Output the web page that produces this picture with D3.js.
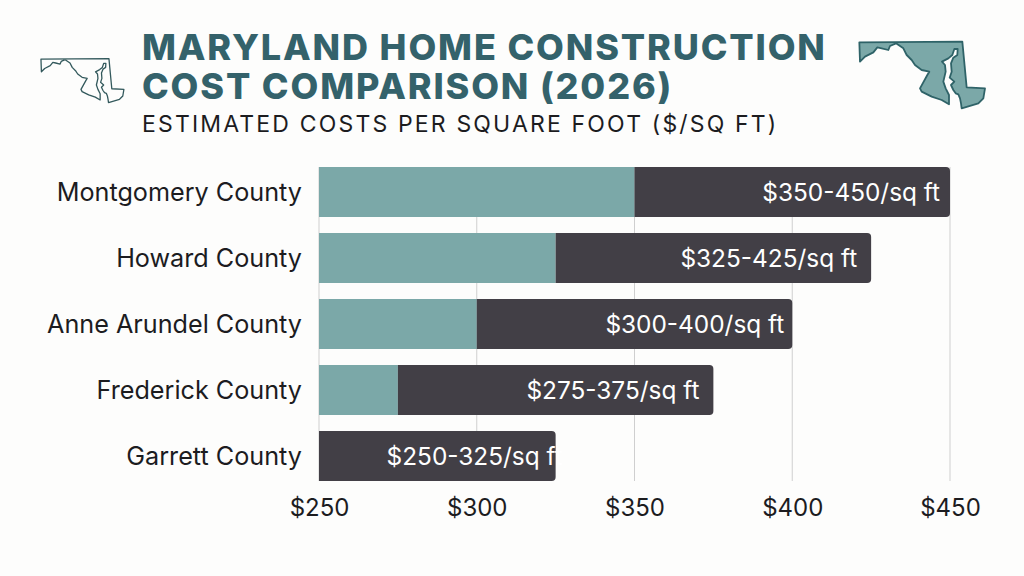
<!DOCTYPE html>
<html>
<head>
<meta charset="utf-8">
<script src="https://cdn.jsdelivr.net/npm/d3@7/dist/d3.min.js"></script>
<style>
  html, body { margin: 0; padding: 0; background: #fdfdfc; }
  svg { display: block; }
  text { font-family: Inter, "Open Sans", sans-serif; }
</style>
</head>
<body>
<svg id="chart" width="1024" height="576"></svg>
<script>
// Construction cost ranges, dollars per square foot
const counties = ["Montgomery County", "Howard County", "Anne Arundel County", "Frederick County", "Garrett County"];
const lowCosts = [350, 325, 300, 275, 250];
const highCosts = [450, 425, 400, 375, 325];
const costLabels = ["$350-450/sq ft", "$325-425/sq ft", "$300-400/sq ft", "$275-375/sq ft", "$250-325/sq ft"];
const axisTicks = [250, 300, 350, 400, 450];
const labelInsets = [10, 14, 8, 14, -7];

const titleLines = ["MARYLAND HOME CONSTRUCTION", "COST COMPARISON (2026)"];
const subtitle = "ESTIMATED COSTS PER SQUARE FOOT ($/SQ FT)";

// State silhouette, in its own drawing units
const marylandOutline = [[58,67],[367,65],[380,202],[435,205],[430,235],[415,250],[365,265],[363,250],[360,235],[355,223],[347,220],[340,210],[333,195],[343,185],[329,173],[335,155],[333,130],[340,113],[352,105],[353,87],[343,87],[337,105],[325,115],[306,125],[315,135],[317,155],[310,185],[317,205],[327,225],[327,253],[305,240],[275,230],[245,215],[240,205],[262,165],[268,155],[245,150],[225,135],[215,120],[200,105],[190,85],[168,70],[150,78],[145,90],[125,85],[112,82],[100,97],[75,110],[60,125]];

const TEAL = "#7ba8a8", DARK = "#423f46", TITLE = "#34626b", INK = "#1c1c1f";

const svg = d3.select("#chart");
const x = d3.scaleLinear().domain([250, 450]).range([319, 950]);
const y = d3.scaleBand().domain(counties).range([167, 481]).paddingInner(16 / 66).paddingOuter(0);
const plotBottom = y.range()[1];

// Vertical gridlines
svg.append("g").selectAll("line").data(axisTicks).join("line")
  .attr("x1", d => x(d)).attr("x2", d => x(d))
  .attr("y1", y.range()[0]).attr("y2", plotBottom)
  .attr("stroke", "#cfcfcf").attr("stroke-width", 1);

// Lower portion of each range
svg.append("g").selectAll("rect").data(counties).join("rect")
  .attr("x", x(250)).attr("y", d => y(d))
  .attr("width", (d, i) => x(lowCosts[i]) - x(250)).attr("height", y.bandwidth())
  .attr("fill", TEAL);

// Cost range bars, rounded at the right end only
svg.append("g").selectAll("path").data(counties).join("path")
  .attr("d", (d, i) => {
    const x0 = x(lowCosts[i]), x1 = x(highCosts[i]), t = y(d), b = t + y.bandwidth(), r = 4;
    return `M${x0},${t}H${x1 - r}Q${x1},${t} ${x1},${t + r}V${b - r}Q${x1},${b} ${x1 - r},${b}H${x0}Z`;
  })
  .attr("fill", DARK);

// Range labels inside the bars
svg.append("g").selectAll("text").data(costLabels).join("text")
  .attr("x", (d, i) => x(highCosts[i]) - labelInsets[i])
  .attr("y", (d, i) => y(counties[i]) + y.bandwidth() / 2)
  .attr("dy", "0.35em").attr("text-anchor", "end")
  .attr("font-size", 24.4).attr("fill", "#ffffff")
  .text(d => d);

// County names
svg.append("g").selectAll("text").data(counties).join("text")
  .attr("x", 302).attr("y", d => y(d) + y.bandwidth() / 2)
  .attr("dy", "0.37em").attr("text-anchor", "end")
  .attr("font-size", 25.2).attr("fill", INK)
  .text(d => d);

// Dollar axis
const axis = d3.axisBottom(x).tickValues(axisTicks).tickFormat(d => "$" + d).tickSize(0).tickPadding(0);
const axisG = svg.append("g").attr("transform", "translate(0,499)").call(axis);
axisG.select(".domain").remove();
axisG.selectAll("text").attr("font-size", 24).attr("fill", INK).attr("font-family", "Inter");

// Heading
svg.append("g").selectAll("text").data(titleLines).join("text")
  .attr("x", 142).attr("y", (d, i) => 60 + i * 39)
  .attr("font-size", 36).attr("font-weight", 800).attr("letter-spacing", 1.85).attr("fill", TITLE)
  .text(d => d);
svg.append("text").attr("x", 142).attr("y", 132)
  .attr("font-size", 23).attr("letter-spacing", 2.17).attr("fill", INK).text(subtitle);

// State outlines on each side of the heading
const outline = d3.line().curve(d3.curveLinearClosed);
const stateScale = (ox, oy, s) => outline(marylandOutline.map(([a, b]) => [ox + a * s, oy + b * s]));
svg.append("path").attr("d", stateScale(28.2, 44.3, 0.22))
  .attr("fill", "none").attr("stroke", "#33595c").attr("stroke-width", 1.3).attr("stroke-linejoin", "round");
svg.append("path").attr("d", stateScale(840, 20, 1 / 3))
  .attr("fill", TEAL).attr("stroke", "#2f6368").attr("stroke-width", 1.8).attr("stroke-linejoin", "round");
</script>
</body>
</html>
